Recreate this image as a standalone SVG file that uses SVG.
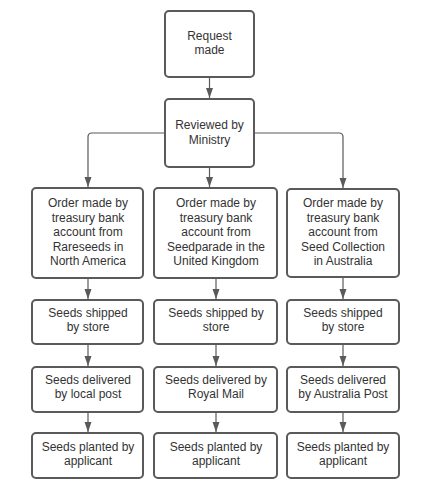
<svg xmlns="http://www.w3.org/2000/svg" width="431" height="503" viewBox="0 0 431 503">
<defs>
<marker id="ah" markerWidth="11" markerHeight="9" refX="10" refY="4" orient="auto" markerUnits="userSpaceOnUse">
<path d="M0,0.5 L10,4 L0,7.5 Z" fill="#5a5a5a"/>
</marker>
<style>
.box{fill:#fff;stroke:#5a5a5a;stroke-width:2}
.t{font-family:"Liberation Sans",Arial,sans-serif;font-size:12px;fill:#333;text-anchor:middle}
.c{fill:none;stroke:#5a5a5a;stroke-width:1.2;marker-end:url(#ah)}
</style>
</defs>
<rect width="431" height="503" fill="#fff"/>
<g id="connectors">
<path class="c" d="M209.5,77 V98"/>
<path class="c" d="M165,133 H92 Q88,133 88,137 V187"/>
<path class="c" d="M209.5,167 V187"/>
<path class="c" d="M254,133 H339 Q343,133 343,137 V188"/>
<path class="c" d="M88,278 V299"/>
<path class="c" d="M216,278 V299"/>
<path class="c" d="M343,277 V299"/>
<path class="c" d="M88,344 V366"/>
<path class="c" d="M216,344 V366"/>
<path class="c" d="M343,344 V366"/>
<path class="c" d="M88,412 V432"/>
<path class="c" d="M216,412 V432"/>
<path class="c" d="M343,412 V432"/>
</g>
<g id="request">
<rect class="box" x="165" y="11" width="89" height="66" rx="4"/>
<text class="t" x="209.5" y="40">Request</text>
<text class="t" x="209.5" y="54">made</text>
</g>
<g id="reviewed">
<rect class="box" x="165" y="99" width="89" height="68" rx="4"/>
<text class="t" x="209.5" y="129">Reviewed by</text>
<text class="t" x="209.5" y="144">Ministry</text>
</g>
<g id="order-na">
<rect class="box" x="32" y="188" width="111" height="90" rx="4"/>
<text class="t" x="88" y="207">Order made by</text>
<text class="t" x="88" y="221.5">treasury bank</text>
<text class="t" x="88" y="236">account from</text>
<text class="t" x="88" y="250.5">Rareseeds in</text>
<text class="t" x="88" y="265">North America</text>
</g>
<g id="order-uk">
<rect class="box" x="154" y="188" width="123" height="90" rx="4"/>
<text class="t" x="216" y="207">Order made by</text>
<text class="t" x="216" y="221.5">treasury bank</text>
<text class="t" x="216" y="236">account from</text>
<text class="t" x="216" y="250.5">Seedparade in the</text>
<text class="t" x="216" y="265">United Kingdom</text>
</g>
<g id="order-au">
<rect class="box" x="287" y="189" width="112" height="88" rx="4"/>
<text class="t" x="343" y="207">Order made by</text>
<text class="t" x="343" y="221.5">treasury bank</text>
<text class="t" x="343" y="236">account from</text>
<text class="t" x="343" y="250.5">Seed Collection</text>
<text class="t" x="343" y="265">in Australia</text>
</g>
<g id="shipped-na">
<rect class="box" x="32" y="300" width="111" height="44" rx="4"/>
<text class="t" x="88" y="317">Seeds shipped</text>
<text class="t" x="88" y="331">by store</text>
</g>
<g id="shipped-uk">
<rect class="box" x="154" y="300" width="123" height="44" rx="4"/>
<text class="t" x="216" y="317">Seeds shipped by</text>
<text class="t" x="216" y="331">store</text>
</g>
<g id="shipped-au">
<rect class="box" x="287" y="300" width="112" height="44" rx="4"/>
<text class="t" x="343" y="317">Seeds shipped</text>
<text class="t" x="343" y="331">by store</text>
</g>
<g id="delivered-na">
<rect class="box" x="32" y="367" width="111" height="45" rx="4"/>
<text class="t" x="88" y="384">Seeds delivered</text>
<text class="t" x="88" y="398">by local post</text>
</g>
<g id="delivered-uk">
<rect class="box" x="154" y="367" width="123" height="45" rx="4"/>
<text class="t" x="216" y="384">Seeds delivered by</text>
<text class="t" x="216" y="398">Royal Mail</text>
</g>
<g id="delivered-au">
<rect class="box" x="287" y="367" width="112" height="45" rx="4"/>
<text class="t" x="343" y="384">Seeds delivered</text>
<text class="t" x="343" y="398">by Australia Post</text>
</g>
<g id="planted-na">
<rect class="box" x="32" y="433" width="111" height="45" rx="4"/>
<text class="t" x="88" y="451">Seeds planted by</text>
<text class="t" x="88" y="465">applicant</text>
</g>
<g id="planted-uk">
<rect class="box" x="154" y="433" width="123" height="45" rx="4"/>
<text class="t" x="216" y="451">Seeds planted by</text>
<text class="t" x="216" y="465">applicant</text>
</g>
<g id="planted-au">
<rect class="box" x="287" y="433" width="112" height="45" rx="4"/>
<text class="t" x="343" y="451">Seeds planted by</text>
<text class="t" x="343" y="465">applicant</text>
</g>
</svg>
